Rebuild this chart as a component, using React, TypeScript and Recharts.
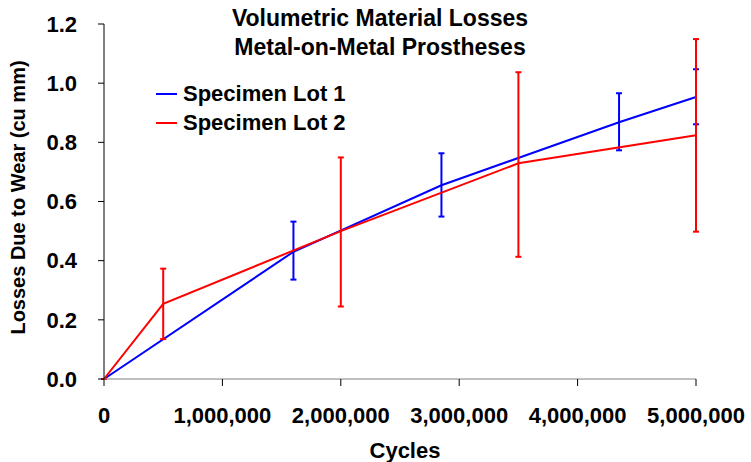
import { LineChart, Line, XAxis, YAxis, ErrorBar } from 'recharts';

// Specimen Lot 1
const lot1Cycles = [0, 1600000, 2850000, 4350000, 5000000];
const lot1Loss = [0, 0.43, 0.655, 0.868, 0.953];
const lot1Low = [0, 0.336, 0.549, 0.773, 0.861];
const lot1High = [0, 0.532, 0.763, 0.966, 1.047];

// Specimen Lot 2
const lot2Cycles = [0, 500000, 2000000, 3500000, 5000000];
const lot2Loss = [0, 0.254, 0.5, 0.729, 0.824];
const lot2Low = [0, 0.135, 0.245, 0.413, 0.498];
const lot2High = [0, 0.373, 0.749, 1.037, 1.149];

const xTicks = [0, 1000000, 2000000, 3000000, 4000000, 5000000];
const yTicks = [0, 0.2, 0.4, 0.6, 0.8, 1.0, 1.2];

const seriesNames = ['Specimen Lot 1', 'Specimen Lot 2'];
const seriesColors = ['#0000ff', '#ff0000'];

const FONT = '"Liberation Sans", Arial, sans-serif';

const build = (cycles: number[], loss: number[], low: number[], high: number[]) =>
  cycles.map((c, i) => ({
    cycles: c,
    loss: loss[i],
    err: [loss[i] - low[i], high[i] - loss[i]],
  }));

const lot1Data = build(lot1Cycles, lot1Loss, lot1Low, lot1High);
const lot2Data = build(lot2Cycles, lot2Loss, lot2Low, lot2High);

const App = () => {
  const tickStyle = { fill: '#000', fontSize: 22, fontWeight: 700, fontFamily: FONT };

  return (
    <div style={{ position: 'absolute', left: 0, top: 0, width: 751, height: 462, background: '#fff' }}>
      {/* TITLE */}
      <div
        style={{
          position: 'absolute',
          left: 180,
          width: 400,
          top: 4,
          textAlign: 'center',
          fontFamily: FONT,
          fontWeight: 700,
          fontSize: 23,
          lineHeight: '29px',
          color: '#000',
          zIndex: 2,
        }}
      >
        <div>Volumetric Material Losses</div>
        <div>Metal-on-Metal Prostheses</div>
      </div>

      {/* LEGEND */}
      <div
        style={{
          position: 'absolute',
          left: 156,
          top: 79,
          fontFamily: FONT,
          fontWeight: 700,
          fontSize: 22,
          color: '#000',
          zIndex: 2,
        }}
      >
        {seriesNames.map((n, i) => (
          <div key={n} style={{ display: 'flex', alignItems: 'center', height: 29 }}>
            <span
              style={{
                display: 'inline-block',
                width: 21,
                height: 0,
                borderTop: `2px solid ${seriesColors[i]}`,
                marginRight: 6,
              }}
            />
            {n}
          </div>
        ))}
      </div>

      <LineChart width={751} height={462} margin={{ top: 24, right: 55, left: 0, bottom: 0 }}>
        <XAxis
          type="number"
          dataKey="cycles"
          domain={[0, 5000000]}
          ticks={xTicks}
          tickFormatter={(v: number) => v.toLocaleString('en-US')}
          height={83}
          stroke="#808080"
          tickLine={{ stroke: '#000' }}
          tickSize={7}
          tickMargin={21}
          tick={tickStyle}
          interval={0}
          label={{
            value: 'Cycles',
            position: 'insideBottom',
            offset: 4,
            dx: 5,
            style: { fill: '#000', fontSize: 22, fontWeight: 700, fontFamily: FONT },
          }}
        />
        <YAxis
          type="number"
          domain={[0, 1.2]}
          ticks={yTicks}
          tickFormatter={(v: number) => v.toFixed(1)}
          width={104}
          stroke="#000"
          tickSize={6}
          tickMargin={21}
          tick={tickStyle}
          interval={0}
          label={{
            value: 'Losses Due to Wear (cu mm)',
            angle: -90,
            position: 'insideLeft',
            offset: 18,
            dy: -4,
            style: { fill: '#000', fontSize: 20, fontWeight: 700, fontFamily: FONT, textAnchor: 'middle' },
          }}
        />
        <Line
          data={lot1Data}
          dataKey="loss"
          name={seriesNames[0]}
          stroke={seriesColors[0]}
          strokeWidth={2}
          dot={false}
          activeDot={false}
          type="linear"
          isAnimationActive={false}
        >
          <ErrorBar dataKey="err" direction="y" width={3} strokeWidth={2} stroke={seriesColors[0]} isAnimationActive={false} />
        </Line>
        <Line
          data={lot2Data}
          dataKey="loss"
          name={seriesNames[1]}
          stroke={seriesColors[1]}
          strokeWidth={2}
          dot={false}
          activeDot={false}
          type="linear"
          isAnimationActive={false}
        >
          <ErrorBar dataKey="err" direction="y" width={3} strokeWidth={2} stroke={seriesColors[1]} isAnimationActive={false} />
        </Line>
      </LineChart>
    </div>
  );
};

export default App;
